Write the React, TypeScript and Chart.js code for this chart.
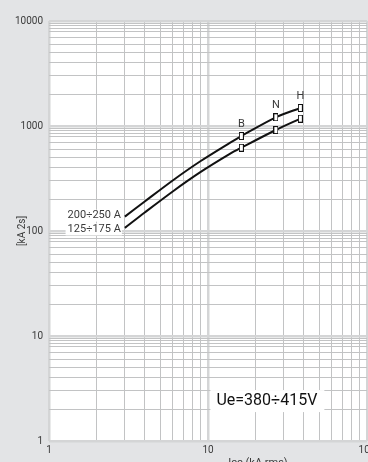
import React, { useEffect, useRef } from 'react';
import { Chart, registerables } from 'chart.js';

Chart.register(...registerables);

// ---- data ----
const currentKA = [3, 4, 6, 9, 13.8, 16.2, 26.7, 38.1];
const energyHigh = [137, 191, 303, 464, 695, 803, 1210, 1484]; // 200÷250 A
const energyLow = [107, 150, 238, 365, 545, 621, 916, 1174]; // 125÷175 A
const seriesLabels = ['200÷250 A', '125÷175 A'];
const breakerLabels = ['B', 'N', 'H'];
const markerIndices = [5, 6, 7];
const xTickLabels = [1, 10, 100];
const yTickLabels = [1, 10, 100, 1000, 10000];
const xSteps = [1, 2, 3, 4, 5, 6, 7, 8, 9];
const ySteps = [1, 2, 3, 4, 5, 6, 7, 8, 8.5, 9, 9.5];
const voltageLabel = 'Ue=380÷415V';
const voltageAt = { x: 11.3, y: 2.4 };
const yTitle = '[kA 2s]';
const xTitle = 'Icc (kA rms)';

const BG = '#e3e4e6';
const TEXT = '#3a3a3a';
const FONT = 'Roboto';

const isDecade = (v: number) => Math.abs(Math.log10(v) - Math.round(Math.log10(v))) < 1e-9;

const buildTicks = (min: number, max: number, steps: number[]) => {
  const out: number[] = [];
  for (let e = Math.round(Math.log10(min)); e < Math.round(Math.log10(max)); e++) {
    const base = Math.pow(10, e);
    steps.forEach((s) => out.push(+(s * base).toPrecision(6)));
  }
  out.push(max);
  return out.map((value) => ({ value }));
};

const makeMarker = () => {
  const c = document.createElement('canvas');
  c.width = 5;
  c.height = 8;
  const g = c.getContext('2d')!;
  g.fillStyle = '#fff';
  g.fillRect(0.5, 0.5, 4, 7);
  g.strokeStyle = '#111';
  g.lineWidth = 1;
  g.strokeRect(0.5, 0.5, 4, 7);
  return c;
};

const decor = {
  id: 'decor',
  beforeDraw(chart: any) {
    const { ctx, width, height, chartArea: a } = chart;
    ctx.save();
    ctx.fillStyle = BG;
    ctx.fillRect(0, 0, width, height);
    ctx.fillStyle = '#fff';
    ctx.fillRect(a.left, a.top, a.right - a.left, a.bottom - a.top);
    ctx.restore();
  },
  afterDatasetsDraw(chart: any) {
    const { ctx, chartArea: a, scales } = chart;
    ctx.save();
    // series labels
    ctx.font = `11px ${FONT}`;
    ctx.textAlign = 'right';
    ctx.textBaseline = 'middle';
    [0, 1].forEach((i) => {
      const p = chart.getDatasetMeta(i).data[0];
      const tx = p.x - 4;
      const ty = p.y + (i === 0 ? -1 : 1.5);
      const w = ctx.measureText(seriesLabels[i]).width;
      ctx.fillStyle = '#fff';
      ctx.fillRect(tx - w - 2, ty - 6, w + 3, 12);
      ctx.fillStyle = TEXT;
      ctx.fillText(seriesLabels[i], tx, ty);
    });
    // breaker letters
    ctx.textAlign = 'center';
    ctx.font = `11px ${FONT}`;
    const meta = chart.getDatasetMeta(0);
    markerIndices.forEach((idx, k) => {
      const p = meta.data[idx];
      ctx.fillStyle = TEXT;
      ctx.fillText(breakerLabels[k], p.x, p.y - 12);
    });
    // voltage label
    ctx.font = `16px ${FONT}`;
    ctx.textAlign = 'left';
    const vx = scales.x.getPixelForValue(voltageAt.x);
    const vy = scales.y.getPixelForValue(voltageAt.y);
    const vw = ctx.measureText(voltageLabel).width;
    ctx.fillStyle = '#fff';
    ctx.fillRect(vx - 6, vy - 11, vw + 13, 22);
    ctx.fillStyle = '#111';
    ctx.fillText(voltageLabel, vx, vy);
    // axis titles
    ctx.font = `10px ${FONT}`;
    ctx.fillStyle = TEXT;
    ctx.save();
    ctx.translate(a.left - 27, (a.top + a.bottom) / 2);
    ctx.rotate(-Math.PI / 2);
    ctx.textAlign = 'center';
    ctx.textBaseline = 'middle';
    ctx.fillText(yTitle, 0, 0);
    ctx.restore();
    ctx.font = `11px ${FONT}`;
    ctx.textAlign = 'center';
    ctx.textBaseline = 'top';
    ctx.fillText(xTitle, a.left + 209, a.bottom + 17);
    ctx.restore();
  },
};

export default function App() {
  const ref = useRef<HTMLCanvasElement | null>(null);

  useEffect(() => {
    if (!ref.current) return;
    const marker = makeMarker();
    const mk = (vals: number[]) => currentKA.map((x, i) => ({ x, y: vals[i] }));
    const gridColor = (ctx: any) => (isDecade(ctx.tick.value) ? '#d4d5d6' : '#c2c3c4');
    const gridWidth = (ctx: any) => (isDecade(ctx.tick.value) ? 2.5 : 1);
    const dsCommon = {
      borderColor: '#111',
      borderWidth: 2,
      tension: 0.3,
      pointStyle: marker,
      pointRadius: (c: any) => (markerIndices.includes(c.dataIndex) ? 4 : 0),
      pointHoverRadius: 0,
      fill: false,
    };
    const chart = new Chart(ref.current, {
      type: 'line',
      data: {
        datasets: [
          { ...dsCommon, label: seriesLabels[0], data: mk(energyHigh) },
          { ...dsCommon, label: seriesLabels[1], data: mk(energyLow) },
        ],
      },
      options: {
        animation: false,
        responsive: false,
        devicePixelRatio: 1,
        layout: { padding: { left: 0, top: 21, right: 33, bottom: 0 } },
        plugins: { legend: { display: false }, tooltip: { enabled: false } },
        scales: {
          x: {
            type: 'logarithmic',
            min: 1,
            max: 100,
            afterBuildTicks: (s: any) => {
              s.ticks = buildTicks(1, 100, xSteps);
            },
            afterFit: (s: any) => {
              s.height = 39;
            },
            ticks: {
              autoSkip: false,
              maxRotation: 0,
              padding: 3,
              color: TEXT,
              font: { family: FONT, size: 10 },
              callback: (v: any) => (xTickLabels.some((t) => Math.abs(t - v) < 1e-9) ? String(v) : ''),
            },
            grid: { color: gridColor, lineWidth: gridWidth, drawTicks: false },
            border: { display: false },
          },
          y: {
            type: 'logarithmic',
            min: 1,
            max: 10000,
            afterBuildTicks: (s: any) => {
              s.ticks = buildTicks(1, 10000, ySteps);
            },
            afterFit: (s: any) => {
              s.width = 49;
            },
            ticks: {
              autoSkip: false,
              padding: 6,
              color: TEXT,
              font: { family: FONT, size: 10 },
              callback: (v: any) => (yTickLabels.some((t) => Math.abs(t - v) < 1e-9) ? String(v) : ''),
            },
            grid: { color: gridColor, lineWidth: gridWidth, drawTicks: false },
            border: { display: false },
          },
        },
      },
      plugins: [decor],
    });
    return () => chart.destroy();
  }, []);

  return (
    <div
      style={{
        position: 'fixed',
        left: 0,
        top: 0,
        width: 368,
        height: 462,
        overflow: 'hidden',
        background: BG,
      }}
    >
      <canvas ref={ref} width={400} height={480} style={{ display: 'block' }} />
    </div>
  );
}
